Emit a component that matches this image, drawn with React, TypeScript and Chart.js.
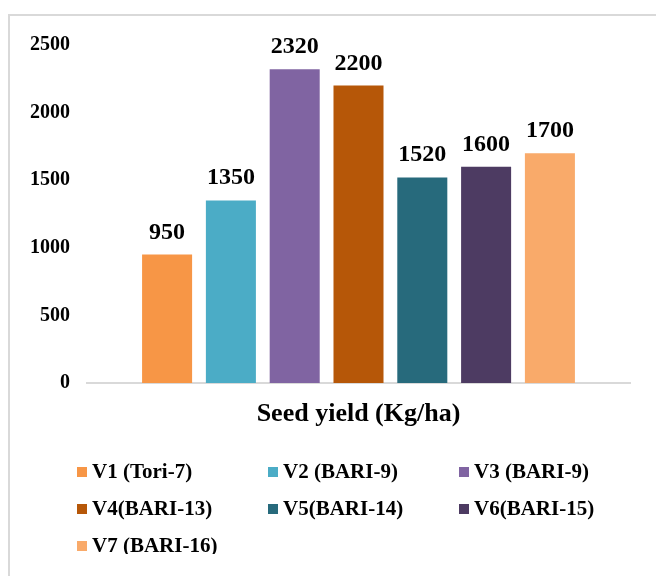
import React, { useEffect, useRef } from "react";
import { Chart, registerables } from "chart.js";

Chart.register(...registerables);

const categories = ["Seed yield (Kg/ha)"];
const seriesNames = [
  "V1 (Tori-7)",
  "V2 (BARI-9)",
  "V3 (BARI-9)",
  "V4(BARI-13)",
  "V5(BARI-14)",
  "V6(BARI-15)",
  "V7 (BARI-16)",
];
const seriesValues = [950, 1350, 2320, 2200, 1520, 1600, 1700];
const seriesColors = ["#F79646", "#4BACC6", "#8064A2", "#B65708", "#276A7C", "#4D3B62", "#F9AA6A"];
const yTicks = [0, 500, 1000, 1500, 2000, 2500];

const FONT = "'Liberation Serif', 'Times New Roman', serif";

const dataLabels = {
  id: "dataLabels",
  afterDatasetsDraw(chart: any) {
    const ctx = chart.ctx;
    ctx.save();
    ctx.font = `bold 24px ${FONT}`;
    ctx.fillStyle = "#000";
    ctx.textAlign = "center";
    ctx.textBaseline = "alphabetic";
    chart.data.datasets.forEach((ds: any, i: number) => {
      const meta = chart.getDatasetMeta(i);
      const el = meta.data[0];
      if (!el) return;
      ctx.fillText(String(ds.data[0]), el.x, el.y - 16);
    });
    ctx.restore();
  },
};

const gridLegend = {
  id: "gridLegend",
  afterDraw(chart: any) {
    const ctx = chart.ctx;
    const left = 67;
    const top = 456;
    const colWidth = 191;
    const rowHeight = 37;
    ctx.save();
    ctx.font = `bold 21px ${FONT}`;
    ctx.textAlign = "left";
    ctx.textBaseline = "middle";
    chart.data.datasets.forEach((ds: any, i: number) => {
      const col = i % 3;
      const row = Math.floor(i / 3);
      const x = left + col * colWidth;
      const y = top + row * rowHeight;
      ctx.fillStyle = ds.backgroundColor;
      ctx.fillRect(x, y - 5, 10, 10);
      ctx.fillStyle = "#000";
      ctx.fillText(ds.label, x + 15, y + 1);
    });
    ctx.restore();
  },
};

export default function App() {
  const ref = useRef<HTMLCanvasElement | null>(null);
  useEffect(() => {
    if (!ref.current) return;
    const chart = new Chart(ref.current, {
      type: "bar",
      data: {
        labels: categories,
        datasets: seriesNames.map((name, i) => ({
          label: name,
          data: [seriesValues[i]],
          backgroundColor: seriesColors[i],
          borderWidth: 0,
          categoryPercentage: 0.8225,
          barPercentage: 0.784,
        })),
      },
      options: {
        responsive: false,
        animation: false,
        devicePixelRatio: 1,
        layout: { padding: { top: 27, right: 26, left: 0, bottom: 0 } },
        plugins: {
          legend: { display: false },
          tooltip: { enabled: false },
        },
        scales: {
          x: {
            grid: { display: false, drawTicks: false },
            border: { display: true, color: "#d9d9d9", width: 2 },
            ticks: {
              color: "#000",
              padding: 16,
              font: { family: FONT, size: 26, weight: "bold" },
            },
            afterFit(scale: any) {
              scale.height = 179;
            },
          },
          y: {
            min: 0,
            max: 2500,
            afterBuildTicks(scale: any) {
              scale.ticks = yTicks.map((v) => ({ value: v }));
            },
            grid: { display: false, drawTicks: false },
            border: { display: false },
            ticks: {
              color: "#000",
              padding: 17,
              font: { family: FONT, size: 20, weight: "bold" },
              callback: (v: any) => String(v),
            },
            afterFit(scale: any) {
              scale.width = 77;
            },
          },
        },
      },
      plugins: [dataLabels, gridLegend],
    });
    return () => chart.destroy();
  }, []);

  return (
    <>
      <div
        style={{
          position: "fixed",
          left: 8,
          top: 14,
          width: 646,
          height: 570,
          borderTop: "2px solid #d9d9d9",
          borderLeft: "2px solid #d9d9d9",
          pointerEvents: "none",
        }}
      />
      <div style={{ position: "relative", top: 8, left: 2, width: 646, height: 546 }}>
        <canvas ref={ref} width={646} height={546} style={{ display: "block" }} />
      </div>
    </>
  );
}
